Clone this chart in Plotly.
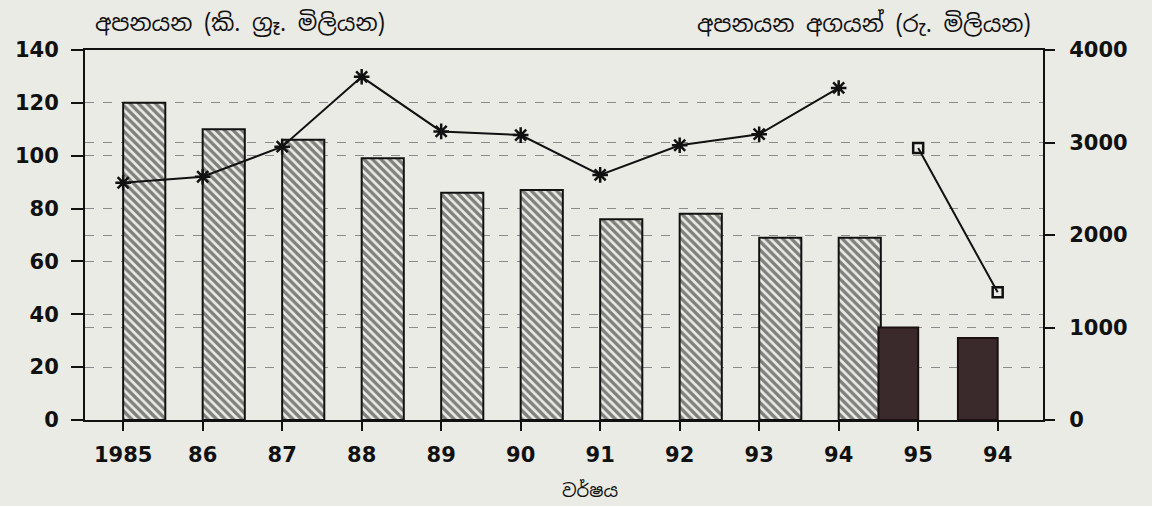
import plotly.graph_objects as go

# categories (the last label really reads "94" in the source)
years = ["1985", "86", "87", "88", "89", "90", "91", "92", "93", "94", "95", "94"]
pos = list(range(len(years)))

# exports, million kg (left axis)
qty_hatched = [120, 110, 106, 99, 86, 87, 76, 78, 69, 69]
qty_dark = [35, 31]

# export value, Rs. million (right axis)
value_star = [2565, 2630, 2955, 3710, 3120, 3080, 2650, 2970, 3090, 3590]
value_square = [2940, 1380]

FONT = "DejaVu Sans, Arial, sans-serif"
SINHALA = "Noto Sans Sinhala, Noto Serif Sinhala, Noto Sans, sans-serif"
BG = "#ebebe6"
INK = "#111111"

fig = go.Figure()

fig.add_trace(
    go.Bar(
        x=pos[:10],
        y=qty_hatched,
        offset=0,
        width=0.53,
        marker=dict(
            color=BG,
            line=dict(color=INK, width=2),
            pattern=dict(shape="\\", fgcolor=INK, bgcolor=BG, size=6, solidity=0.55),
        ),
        showlegend=False,
    )
)

fig.add_trace(
    go.Bar(
        x=pos[10:],
        y=qty_dark,
        offset=-0.5,
        width=0.5,
        marker=dict(color="#3a2a2c", line=dict(color="#1a1012", width=2)),
        showlegend=False,
    )
)

fig.add_trace(
    go.Scatter(
        x=pos[:10],
        y=value_star,
        yaxis="y2",
        mode="lines+markers",
        line=dict(color=INK, width=2),
        marker=dict(symbol="asterisk-open", size=13, line=dict(color=INK, width=2.5)),
        showlegend=False,
    )
)

fig.add_trace(
    go.Scatter(
        x=pos[10:],
        y=value_square,
        yaxis="y2",
        mode="lines+markers",
        line=dict(color=INK, width=2),
        marker=dict(symbol="square-open", size=10, line=dict(color=INK, width=2.5)),
        showlegend=False,
    )
)

fig.update_layout(
    width=1152,
    height=506,
    margin=dict(l=85, r=109, t=50, b=86),
    paper_bgcolor=BG,
    plot_bgcolor=BG,
    barmode="overlay",
    font=dict(family=FONT, size=21, color=INK),
    xaxis=dict(
        range=[-0.48, 11.57],
        tickmode="array",
        tickvals=pos,
        ticktext=["<b>%s</b>" % y for y in years],
        ticks="outside",
        ticklen=9,
        tickwidth=2,
        tickcolor=INK,
        ticklabelstandoff=6,
        showline=True,
        linecolor=INK,
        linewidth=2,
        mirror=True,
        showgrid=False,
        zeroline=False,
    ),
    yaxis=dict(
        range=[0, 140],
        tickvals=[0, 20, 40, 60, 80, 100, 120, 140],
        ticktext=["<b>%d</b>" % v for v in [0, 20, 40, 60, 80, 100, 120, 140]],
        ticks="outside",
        ticklen=12,
        tickwidth=2,
        tickcolor=INK,
        ticklabelstandoff=8,
        showline=True,
        linecolor=INK,
        linewidth=2,
        showgrid=True,
        gridcolor="#8c8c8c",
        gridwidth=1,
        griddash="dash",
        zeroline=False,
    ),
    yaxis2=dict(
        range=[0, 4000],
        overlaying="y",
        side="right",
        tickvals=[0, 1000, 2000, 3000, 4000],
        ticktext=["<b>%d</b>" % v for v in [0, 1000, 2000, 3000, 4000]],
        ticks="outside",
        ticklen=10,
        tickwidth=2,
        tickcolor=INK,
        ticklabelstandoff=10,
        showline=True,
        linecolor=INK,
        linewidth=2,
        showgrid=True,
        gridcolor="#8c8c8c",
        gridwidth=1,
        griddash="dash",
        zeroline=False,
    ),
    annotations=[
        dict(
            text="අපනයන (කි. ග්‍රෑ. මිලියන)",
            xref="paper", yref="paper",
            x=0.008, y=1.0, yshift=27,
            xanchor="left", yanchor="middle",
            showarrow=False,
            font=dict(family=SINHALA, size=23, color=INK),
        ),
        dict(
            text="අපනයන අගයන් (රු. මිලියන)",
            xref="paper", yref="paper",
            x=0.99, y=1.0, yshift=27,
            xanchor="right", yanchor="middle",
            showarrow=False,
            font=dict(family=SINHALA, size=23, color=INK),
        ),
        dict(
            text="වර්ෂය",
            xref="paper", yref="paper",
            x=0.527, y=0, yshift=-70,
            xanchor="center", yanchor="middle",
            showarrow=False,
            font=dict(family=SINHALA, size=18, color=INK),
        ),
    ],
)

fig.write_html(
    "out.html",
    config={"displayModeBar": False},
    post_script="document.body.style.margin='0';document.body.style.background='%s';" % BG,
)
